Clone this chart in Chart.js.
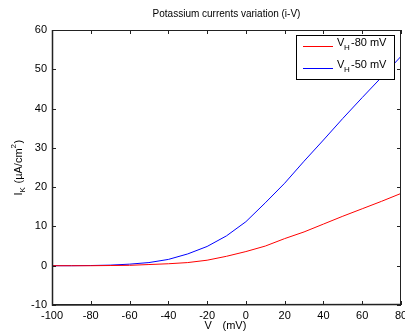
<!DOCTYPE html>
<html>
<head>
<meta charset="utf-8">
<script src="https://cdn.jsdelivr.net/npm/chart.js@4"></script>
<style>
  html, body { margin: 0; padding: 0; background: #fff; }
  #wrap { width: 405px; height: 331px; }
</style>
</head>
<body>
<div id="wrap"><canvas id="iv"></canvas></div>
<script>
// membrane potential (mV)
const voltages = [-100, -90, -80, -70, -60, -50, -40, -30, -20, -10, 0, 10, 20, 30, 40, 50, 60, 70, 80];
// I_K for holding potential -80 mV
const ikHold80 = [0, 0, 0, 0.05, 0.1, 0.3, 0.5, 0.8, 1.4, 2.4, 3.6, 5.0, 6.9, 8.6, 10.6, 12.6, 14.5, 16.4, 18.4];
// I_K for holding potential -50 mV
const ikHold50 = [0, 0, 0.05, 0.15, 0.4, 0.8, 1.6, 3.0, 4.9, 7.6, 11.2, 16.0, 21.0, 26.6, 32.0, 37.5, 42.8, 48.0, 53.3];
const seriesNames = ['-80 mV', '-50 mV'];
const seriesColors = ['#ff0000', '#0000ff'];
const xTicks = [-100, -80, -60, -40, -20, 0, 20, 40, 60, 80];
const yTicks = [-10, 0, 10, 20, 30, 40, 50, 60];

const FONT = 'Liberation Sans, Arial, sans-serif';

const toPoints = (ys) => voltages.map((v, i) => ({ x: v, y: ys[i] }));

// frame, inward ticks, title, axis labels and legend in matlab style
const matlabDecor = {
  id: 'matlabDecor',
  afterDatasetsDraw(chart) {
    const ctx = chart.ctx;
    const a = chart.chartArea;
    const xs = chart.scales.x, ys = chart.scales.y;
    ctx.save();
    ctx.strokeStyle = '#222';
    ctx.lineWidth = 1;
    ctx.strokeRect(a.left + 0.5, a.top + 0.5, a.right - a.left - 1, a.bottom - a.top - 1);
    ctx.beginPath();
    ctx.lineWidth = 1.5;
    ctx.moveTo(a.left + 0.5, a.top); ctx.lineTo(a.left + 0.5, a.bottom);
    ctx.lineTo(a.right, a.bottom - 0.5);
    ctx.stroke();
    ctx.lineWidth = 1;
    ctx.beginPath();
    xTicks.forEach(v => {
      const px = Math.round(xs.getPixelForValue(v)) + 0.5;
      ctx.moveTo(px, a.bottom); ctx.lineTo(px, a.bottom - 4);
      ctx.moveTo(px, a.top); ctx.lineTo(px, a.top + 4);
    });
    yTicks.forEach(v => {
      const py = Math.round(ys.getPixelForValue(v)) + 0.5;
      ctx.moveTo(a.left, py); ctx.lineTo(a.left + 4, py);
      ctx.moveTo(a.right, py); ctx.lineTo(a.right - 4, py);
    });
    ctx.stroke();

    // title
    ctx.fillStyle = '#000';
    ctx.font = '10px ' + FONT;
    ctx.textAlign = 'center';
    ctx.textBaseline = 'middle';
    ctx.fillText('Potassium currents variation (i-V)', (a.left + a.right) / 2, 14);

    // x label
    ctx.font = '11px ' + FONT;
    ctx.textAlign = 'left';
    const xl = (a.left + a.right) / 2 - 22;
    ctx.fillText('V', xl, 326);
    ctx.fillText('(mV)', xl + 18, 326);

    // y label (rotated)
    ctx.save();
    ctx.translate(19, (a.top + a.bottom) / 2);
    ctx.rotate(-Math.PI / 2);
    ctx.textAlign = 'left';
    let x0 = -28;
    ctx.font = '11px ' + FONT;
    ctx.fillText('I', x0, 0);
    ctx.font = '8px ' + FONT;
    ctx.fillText('K', x0 + 3, 4);
    ctx.font = '11px ' + FONT;
    ctx.fillText('(\u00b5A/cm', x0 + 12, 0);
    const w1 = ctx.measureText('(\u00b5A/cm').width;
    ctx.font = '8px ' + FONT;
    ctx.fillText('2', x0 + 12 + w1, -5);
    ctx.font = '11px ' + FONT;
    ctx.fillText(')', x0 + 12 + w1 + 5, 0);
    ctx.restore();

    // legend
    const lx = 296, ly = 35, lw = 98, lh = 44;
    ctx.fillStyle = '#fff';
    ctx.fillRect(lx, ly, lw, lh);
    ctx.strokeStyle = '#000';
    ctx.strokeRect(lx + 0.5, ly + 0.5, lw, lh);
    seriesNames.forEach((name, i) => {
      const yy = ly + 11 + i * 22;
      ctx.strokeStyle = seriesColors[i];
      ctx.beginPath();
      ctx.moveTo(lx + 7, yy + 0.5); ctx.lineTo(lx + 37, yy + 0.5);
      ctx.stroke();
      ctx.fillStyle = '#000';
      ctx.font = '11px ' + FONT;
      ctx.textAlign = 'left';
      ctx.fillText('V', lx + 41, yy - 3);
      ctx.font = '8px ' + FONT;
      ctx.fillText('H', lx + 48, yy + 2);
      ctx.font = '11px ' + FONT;
      ctx.fillText(name, lx + 55, yy - 3);
    });
    ctx.restore();
  }
};

new Chart(document.getElementById('iv'), {
  type: 'line',
  data: {
    datasets: [
      { label: 'VH ' + seriesNames[0], data: toPoints(ikHold80), borderColor: seriesColors[0], borderWidth: 1, pointRadius: 0, tension: 0 },
      { label: 'VH ' + seriesNames[1], data: toPoints(ikHold50), borderColor: seriesColors[1], borderWidth: 1, pointRadius: 0, tension: 0 }
    ]
  },
  options: {
    responsive: true,
    maintainAspectRatio: false,
    animation: false,
    layout: { autoPadding: false, padding: { top: 30, right: 4, left: 0, bottom: 0 } },
    plugins: { legend: { display: false }, tooltip: { enabled: false } },
    scales: {
      x: {
        type: 'linear', min: -100, max: 80,
        afterBuildTicks: (s) => { s.ticks = xTicks.map(v => ({ value: v })); },
        afterFit: (s) => { s.height = 26; s.paddingLeft = 0; s.paddingRight = 0; },
        grid: { display: false, drawTicks: false },
        border: { display: false },
        ticks: { color: '#000', font: { family: FONT, size: 11 }, padding: 4, maxRotation: 0, autoSkip: false }
      },
      y: {
        type: 'linear', min: -10, max: 60,
        afterBuildTicks: (s) => { s.ticks = yTicks.map(v => ({ value: v })); },
        afterFit: (s) => { s.width = 52; s.paddingTop = 0; s.paddingBottom = 0; },
        grid: { display: false, drawTicks: false },
        border: { display: false },
        ticks: { color: '#000', font: { family: FONT, size: 11 }, padding: 5 }
      }
    }
  },
  plugins: [matlabDecor]
});
</script>
</body>
</html>
